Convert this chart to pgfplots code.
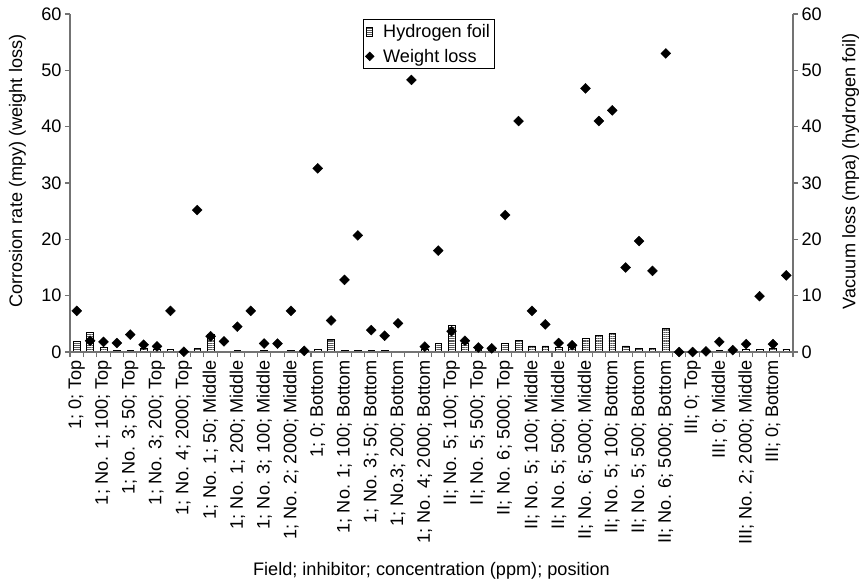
\documentclass[border=0pt]{standalone}
\usepackage{fontspec}
\setmainfont{Liberation Sans}
\usepackage{pgfplots}
\usepackage{pgfplotstable}
\pgfplotsset{compat=1.18}
\usetikzlibrary{patterns.meta}
\newcommand\fs{\fontsize{18.2}{22}\selectfont}
\definecolor{axgray}{gray}{0.45}
\pgfplotstableread{
x w h
0 7.3 1.9
1 2.0 3.5
2 1.8 0.8
3 1.6 0.3
4 3.1 0.3
5 1.3 0.7
6 1.0 0.5
7 7.3 0.4
8 0.05 0.1
9 25.2 0.7
10 2.8 3.2
11 1.9 0
12 4.5 0.3
13 7.3 0.2
14 1.5 0.3
15 1.5 0.1
16 7.3 0.3
17 0.2 0.1
18 32.6 0.55
19 5.6 2.2
20 12.8 0.3
21 20.7 0.3
22 3.9 0.3
23 2.9 0.3
24 5.1 0
25 48.3 0
26 0.95 0.5
27 18.0 1.5
28 3.7 4.7
29 2.0 1.5
30 0.8 0.7
31 0.65 0.5
32 24.3 1.5
33 41.0 2.0
34 7.3 1.1
35 4.9 1.1
36 1.6 0.85
37 1.2 0.8
38 46.8 2.4
39 41.0 2.95
40 42.9 3.25
41 15.0 1.1
42 19.7 0.7
43 14.4 0.6
44 53.0 4.25
45 0 0
46 0 0
47 0.1 0
48 1.8 0.3
49 0.35 0.1
50 1.4 0.5
51 9.9 0.4
52 1.4 0.6
53 13.6 0.5
}\data
\begin{document}
\begin{tikzpicture}
\pgfplotsset{
  base/.style={
    width=723bp, height=338bp, scale only axis,
    at={(0,0)}, anchor=south west,
    xmin=-0.5, xmax=53.5, ymin=0, ymax=60,
    ytick={0,10,...,60},
    tick align=outside, major tick length=5bp,
    axis line style={axgray, line width=1.3bp},
    tick style={axgray, line width=1.1bp},
    tick label style={font=\fs},
    label style={font=\fs},
    /pgf/number format/assume math mode=true,
    clip=false,
  },
  hbar/.style={draw=black, line width=0.6bp, fill=white,
    postaction={pattern={Lines[angle=0,distance=2.2bp,line width=1.2bp]}, pattern color=black!65}},
}
\begin{axis}[base, axis x line=none, axis y line*=right,
  ylabel={Vacuum loss (mpa) (hydrogen foil)},
  ylabel style={at={(axis description cs:1.0678,0.535)}, anchor=north, inner sep=0pt}]
\addplot[ybar, bar width=0.5, hbar] table[x=x,y=h]{\data};
\end{axis}
\begin{axis}[base, axis x line*=bottom, axis y line*=left,
  xtick={-0.5,0.5,...,53.5}, xticklabels={},
  extra x ticks={0,2,...,52},
  extra x tick labels={1; 0; Top,1; No. 1; 100; Top,1; No. 3; 50; Top,1; No. 3; 200; Top,1; No. 4; 2000; Top,1; No. 1; 50; Middle,1; No. 1; 200; Middle,1; No. 3; 100; Middle,1; No. 2; 2000; Middle,1; 0; Bottom,1; No. 1; 100; Bottom,1; No. 3; 50; Bottom,1; No.3; 200; Bottom,1; No. 4; 2000; Bottom,II; No. 5; 100; Top,II; No. 5; 500; Top,II; No. 6; 5000; Top,II; No. 5; 100; Middle,II; No. 5; 500; Middle,II; No. 6; 5000; Middle,II; No. 5; 100; Bottom,II; No. 5; 500; Bottom,II; No. 6; 5000; Bottom,III; 0; Top,III; 0; Middle,III; No. 2; 2000; Middle,III; 0; Bottom},
  extra x tick style={major tick length=0pt, tick style={draw=none}, tick label style={rotate=90, anchor=east, inner xsep=8bp, inner ysep=0bp}},
  ylabel={Corrosion rate (mpy) (weight loss)},
  ylabel style={at={(axis description cs:-0.0845,0.535)}, anchor=north, inner sep=0pt},
  xlabel={Field; inhibitor; concentration (ppm); position},
  xlabel style={at={(axis description cs:0.5,-0.621)}, anchor=north, inner sep=0pt},
  legend style={at={(axis description cs:0.405,0.985)}, anchor=north west, draw=black, line width=0.8bp, font=\fs, inner xsep=2bp, inner ysep=3bp, row sep=6bp},
  legend cell align=left]
\addlegendimage{legend image code/.code={\path[draw=none,fill=none] (0bp,0bp) -- (16bp,0bp);\draw[draw=black, line width=0.5bp, fill=white, postaction={pattern={Lines[angle=0,distance=2bp,line width=1bp]}, pattern color=black!65}] (1.5bp,-4.5bp) rectangle (7.5bp,4.5bp);}}
\addlegendentry{Hydrogen foil}
\addplot[only marks, mark=square*, mark size=3.5bp, mark options={rotate=45, fill=black, draw=black},
  legend image code/.code={\path[draw=none,fill=none] (0bp,0bp) -- (16bp,0bp);\draw[only marks, mark=square*, mark size=3bp, mark options={rotate=45, fill=black, draw=black}] plot coordinates {(4.5bp,0bp)};}] table[x=x,y=w]{\data};
\addlegendentry{Weight loss}
\end{axis}
\pgfresetboundingbox
\path (-70bp,-231bp) rectangle (790bp,352bp);
\end{tikzpicture}
\end{document}
